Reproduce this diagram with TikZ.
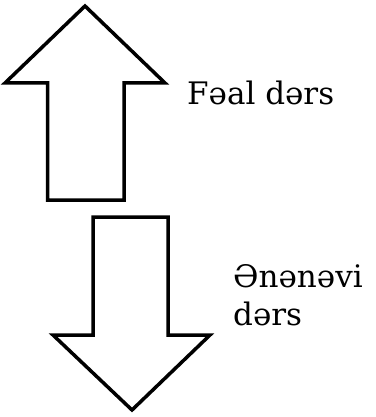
\documentclass[tikz,border=0pt]{standalone}
\usepackage{fontspec}
\setmainfont{DejaVu Serif}
\begin{document}
\begin{tikzpicture}[x=1pt,y=-1pt,
  blockarrow/.style={draw=black,line width=3.5pt,fill=white,line join=miter},
  lbl/.style={anchor=base west,inner sep=0pt,font=\fontsize{31}{38}\selectfont}]
\useasboundingbox (0,0) rectangle (375,417);
% up arrow
\draw[blockarrow] (85,6) -- (165,83) -- (124,83) -- (124,200) -- (47.5,200) -- (47.5,83) -- (5,83) -- cycle;
% down arrow
\draw[blockarrow] (93,217) -- (168,217) -- (168,335) -- (210,335) -- (132,410) -- (53,335) -- (93,335) -- cycle;
\node[lbl] (feal) at (187,104) {Fəal dərs};
\node[lbl] (enenevi) at (233,287) {Ənənəvi};
\node[lbl] (ders) at (233,325) {dərs};
\end{tikzpicture}
\end{document}
